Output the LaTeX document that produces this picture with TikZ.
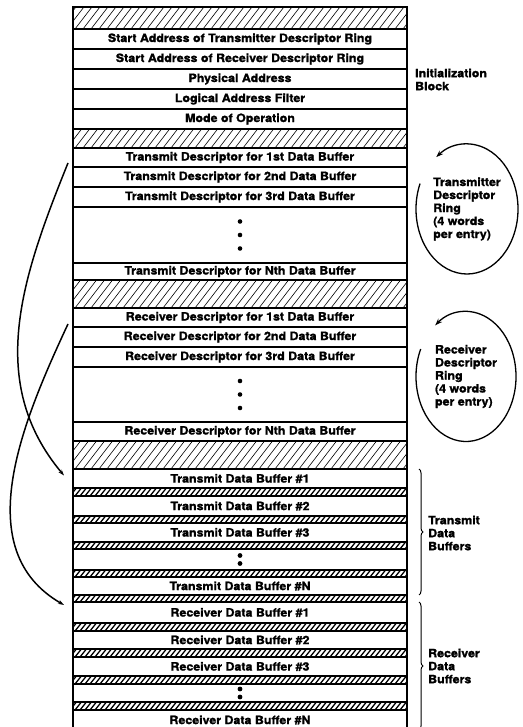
\documentclass[tikz,border=0pt]{standalone}
\usepackage{fontspec}
\setmainfont{TeX Gyre Heros}[FakeStretch=1.08,BoldFeatures={FakeBold=1.4}]
\usetikzlibrary{arrows.meta,decorations.pathreplacing}

\tikzset{
  lbl/.style={font=\fontsize{11.5}{13}\selectfont\bfseries},
  cell/.style={draw, line width=1.6pt, minimum width=334pt, minimum height=#1,
    inner sep=0pt, outer sep=0pt, lbl},
  hatch/.style={cell=#1, path picture={
    \foreach \k in {0,...,46}
      \draw[line width=0.6pt] ([xshift=\k*8pt-30pt]path picture bounding box.south west) -- ++(30pt,39pt);}},
  strip/.style={cell=#1, line width=1.8pt, path picture={
    \foreach \k in {0,...,70}
      \draw[line width=1.3pt] ([xshift=\k*5pt-8pt]path picture bounding box.south west) -- ++(8pt,10pt);}},
  link/.style={line width=1.5pt, -{Stealth[length=6pt,width=4pt]}},
  ring/.style={line width=1.3pt, -{Stealth[length=7pt,width=5pt]}},
  side/.style={lbl, align=left, inner sep=0pt}
}

\begin{document}
\begin{tikzpicture}[x=1pt,y=1pt]
  \useasboundingbox (0,0) rectangle (522,727);
  \clip (0,0) rectangle (522,727);

  % initialization block
  \node[hatch=22pt] (padA) at (240,709) {};
  \node[cell=20pt] (satx) at (240,688) {Start Address of Transmitter Descriptor Ring};
  \node[cell=20pt] (sarx) at (240,668) {Start Address of Receiver Descriptor Ring};
  \node[cell=20pt] (phys) at (240,648) {Physical Address};
  \node[cell=20pt] (ladrf) at (240,628) {Logical Address Filter};
  \node[cell=20pt] (mode) at (240,608) {Mode of Operation};
  \node[hatch=19pt] (padB) at (240,588.5) {};

  % transmit descriptor ring
  \node[cell=19pt] (td1) at (240,569.5) {Transmit Descriptor for 1st Data Buffer};
  \node[cell=20pt] (td2) at (240,550) {Transmit Descriptor for 2nd Data Buffer};
  \node[cell=20pt] (td3) at (240,530) {Transmit Descriptor for 3rd Data Buffer};
  \node[cell=56pt] (tdx) at (240,492) {};
  \node[cell=17pt] (tdn) at (240,455.5) {Transmit Descriptor for Nth Data Buffer};
  \node[hatch=28pt] (padC) at (240,433) {};

  % receive descriptor ring
  \node[cell=19pt] (rd1) at (240,409.5) {Receiver Descriptor for 1st Data Buffer};
  \node[cell=20pt] (rd2) at (240,390) {Receiver Descriptor for 2nd Data Buffer};
  \node[cell=20pt] (rd3) at (240,370) {Receiver Descriptor for 3rd Data Buffer};
  \node[cell=55pt] (rdx) at (240,332.5) {};
  \node[cell=19pt] (rdn) at (240,295.5) {Receiver Descriptor for Nth Data Buffer};
  \node[hatch=28pt] (padD) at (240,272) {};

  % transmit buffers
  \node[cell=19pt] (tb1) at (240,248.5) {Transmit Data Buffer \#1};
  \node[strip=8pt] (gapA) at (240,235) {};
  \node[cell=20pt] (tb2) at (240,221) {Transmit Data Buffer \#2};
  \node[strip=7pt] (gapB) at (240,207.5) {};
  \node[cell=19pt] (tb3) at (240,194.5) {Transmit Data Buffer \#3};
  \node[strip=7pt] (gapC) at (240,181.5) {};
  \node[cell=21pt] (tbx) at (240,167.5) {};
  \node[strip=7pt] (gapD) at (240,153.5) {};
  \node[cell=18pt] (tbn) at (240,141) {Transmit Data Buffer \#N};
  \node[strip=7pt] (gapE) at (240,128.5) {};

  % receive buffers
  \node[cell=21pt] (rb1) at (240,114.5) {Receiver Data Buffer \#1};
  \node[strip=8pt] (gapF) at (240,100) {};
  \node[cell=18pt] (rb2) at (240,87) {Receiver Data Buffer \#2};
  \node[strip=8pt] (gapG) at (240,74) {};
  \node[cell=19pt] (rb3) at (240,60.5) {Receiver Data Buffer \#3};
  \node[strip=8pt] (gapH) at (240,47) {};
  \node[cell=18pt] (rbx) at (240,34) {};
  \node[strip=8pt] (gapI) at (240,21) {};
  \node[cell=20pt] (rbn) at (240,7) {Receiver Data Buffer \#N};

  % outer frame
  \draw[line width=2.6pt] (rbn.south west) -- (padA.north west) -- (padA.north east) -- (rbn.south east);

  % dots
  \fill ([yshift=13.5pt]tdx.center) circle (2.3pt) (tdx.center) circle (2.3pt) ([yshift=-13.5pt]tdx.center) circle (2.3pt);
  \fill ([yshift=13.5pt]rdx.center) circle (2.3pt) (rdx.center) circle (2.3pt) ([yshift=-13.5pt]rdx.center) circle (2.3pt);
  \fill ([yshift=4pt]tbx.center) circle (2.4pt) ([yshift=-4pt]tbx.center) circle (2.4pt);
  \fill ([yshift=4pt]rbx.center) circle (2.4pt) ([yshift=-4pt]rbx.center) circle (2.4pt);

  % side labels
  \node[side, anchor=west] (initblk) at (415,647.5) {Initialization\\Block};
  \node[side] (txring) at (467,518) {Transmitter\\Descriptor\\Ring\\(4 words\\per entry)};
  \node[side] (rxring) at (466,350.5) {Receiver\\Descriptor\\Ring\\(4 words\\per entry)};
  \node[side, anchor=west] (txbuf) at (428,194) {Transmit\\Data\\Buffers};
  \node[side, anchor=west] (rxbuf) at (428,61) {Receiver\\Data\\Buffers};

  % rings
  \draw[ring] ([shift={(157:51pt and 65pt)}]txring.center) arc[start angle=157, end angle=487, x radius=51pt, y radius=65pt];
  \draw[ring] ([shift={(155:50pt and 65pt)}]rxring.center) arc[start angle=155, end angle=488, x radius=50pt, y radius=65pt];

  % braces
  \draw[line width=1pt, decorate, decoration={brace, amplitude=4pt}]
    ([xshift=12pt]tb1.north east) -- ([xshift=12pt]tbn.south east);
  \draw[line width=1pt, decorate, decoration={brace, amplitude=4pt}]
    ([xshift=12pt]rb1.north east) -- ([xshift=12pt]rbn.south east);

  % descriptor -> buffer
  \draw[link] ([shift={(-5pt,4pt)}]td1.south west) to[out=248,in=130] ([shift={(-9pt,3pt)}]tb1.west);
  \draw[link] ([shift={(-5pt,3pt)}]rd1.south west) to[out=245,in=150] ([shift={(-9pt,-3pt)}]rb1.north west);
\end{tikzpicture}
\end{document}
